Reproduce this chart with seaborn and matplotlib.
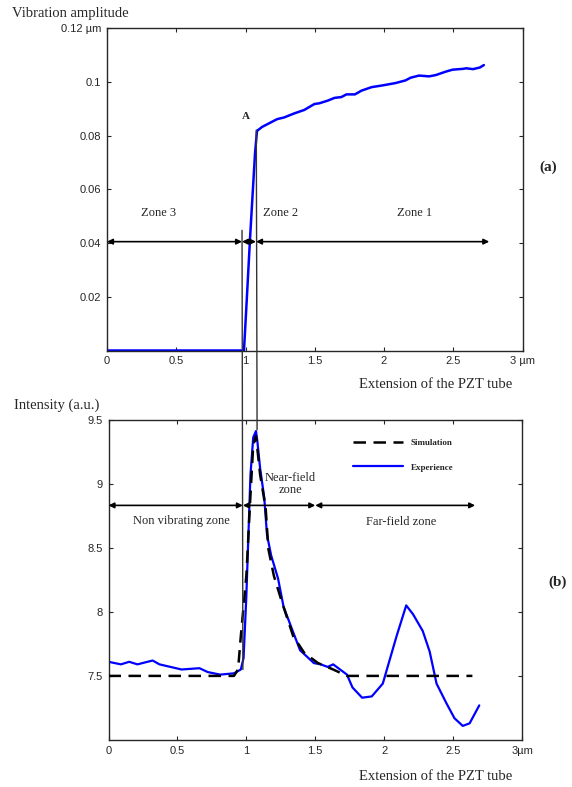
import matplotlib
matplotlib.use("Agg")
import matplotlib.pyplot as plt
from matplotlib.patches import ConnectionPatch
import seaborn as sns
import pandas as pd

# (a) vibration amplitude vs extension
ext_a = [0, 0.5, 0.989, 1.009, 1.032, 1.056, 1.069, 1.083, 1.12, 1.18, 1.229, 1.278,
         1.351, 1.424, 1.497, 1.534, 1.595, 1.643, 1.692, 1.729, 1.79, 1.838, 1.911,
         1.985, 2.082, 2.155, 2.192, 2.253, 2.326, 2.375, 2.448, 2.496, 2.57, 2.594,
         2.643, 2.692, 2.721]
amp_a = [0, 0, 0, 0.0188, 0.041, 0.0622, 0.0735, 0.0817, 0.0832, 0.0848, 0.0861, 0.0867,
         0.0882, 0.0895, 0.0917, 0.092, 0.093, 0.094, 0.0943, 0.0953, 0.0953, 0.0967, 0.098,
         0.0986, 0.0995, 0.1005, 0.1015, 0.1023, 0.102, 0.1025, 0.1038, 0.1045, 0.1048, 0.105,
         0.1047, 0.1053, 0.1062]

# (b) intensity: experience
ext_exp = [0, 0.09, 0.15, 0.21, 0.32, 0.37, 0.53, 0.66, 0.72, 0.81, 0.91, 0.96, 0.98, 1.0,
           1.03, 1.05, 1.07, 1.08, 1.10, 1.13, 1.15, 1.18, 1.23, 1.27, 1.34, 1.39, 1.49,
           1.54, 1.59, 1.63, 1.73, 1.77, 1.84, 1.91, 1.99, 2.09, 2.16, 2.21, 2.28, 2.33,
           2.38, 2.45, 2.51, 2.57, 2.62, 2.69]
int_exp = [7.61, 7.59, 7.61, 7.59, 7.62, 7.59, 7.55, 7.56, 7.53, 7.51, 7.52, 7.55, 7.64,
           8.12, 9.07, 9.36, 9.41, 9.33, 9.12, 8.89, 8.6, 8.44, 8.26, 8.04, 7.84, 7.70,
           7.60, 7.59, 7.57, 7.59, 7.51, 7.41, 7.33, 7.34, 7.44, 7.81, 8.05, 7.98, 7.85,
           7.69, 7.44, 7.29, 7.17, 7.11, 7.13, 7.27]

# (b) intensity: simulation
ext_sim = [0, 0.91, 0.94, 0.96, 1.0, 1.03, 1.05, 1.07, 1.10, 1.14, 1.16, 1.2, 1.26, 1.34,
           1.42, 1.52, 1.63, 1.73, 2.64]
int_sim = [7.5, 7.5, 7.55, 7.81, 8.28, 8.91, 9.3, 9.37, 9.07, 8.81, 8.49, 8.28, 8.07, 7.81,
           7.68, 7.6, 7.55, 7.5, 7.5]

x_ticks = [0, 0.5, 1, 1.5, 2, 2.5, 3]
x_labels_a = ["0", "0.5", "1", "1.5", "2", "2.5", "3 \u00b5m"]
x_labels_b = ["0", "0.5", "1", "1.5", "2", "2.5", "3\u00b5m"]
y_ticks_a = [0.02, 0.04, 0.06, 0.08, 0.1, 0.12]
y_labels_a = ["0.02", "0.04", "0.06", "0.08", "0.1", "0.12 \u00b5m"]
y_ticks_b = [7.5, 8, 8.5, 9, 9.5]
y_labels_b = ["7.5", "8", "8.5", "9", "9.5"]


def main():
    sns.set_style("ticks")
    plt.rcParams["font.family"] = ["Liberation Serif", "DejaVu Serif"]

    fig = plt.figure(figsize=(5.72, 7.87), dpi=100)
    W, H = 572, 787
    ax1 = fig.add_axes([107 / W, 1 - 350.5 / H, 415.5 / W, 322.5 / H])
    ax2 = fig.add_axes([108.5 / W, 1 - 740 / H, 413.5 / W, 320.5 / H])

    df_a = pd.DataFrame({"ext": ext_a, "amp": amp_a})
    sns.lineplot(data=df_a, x="ext", y="amp", ax=ax1, color="#0000ff", lw=1.8,
                 sort=False, estimator=None)

    df_exp = pd.DataFrame({"ext": ext_exp, "val": int_exp})
    df_sim = pd.DataFrame({"ext": ext_sim, "val": int_sim})
    sns.lineplot(data=df_sim, x="ext", y="val", ax=ax2, color="black", lw=1.8,
                 sort=False, estimator=None, label="Simulation")
    ax2.lines[-1].set_dashes((5, 3))
    ax2.lines[-1].set_zorder(3)
    sns.lineplot(data=df_exp, x="ext", y="val", ax=ax2, color="#0000ff", lw=1.6,
                 sort=False, estimator=None, label="Experience")
    ax2.lines[-1].set_zorder(2.5)

    for ax in (ax1, ax2):
        ax.set_xlim(0, 3)
        ax.set_xlabel("")
        ax.set_ylabel("")
        ax.tick_params(direction="in", top=True, right=True, length=3, width=0.8,
                       labelsize=8, pad=4)
        for s in ax.spines.values():
            s.set_linewidth(1.0)

    ax1.set_ylim(0, 0.12)
    ax1.set_xticks(x_ticks, x_labels_a, family="Liberation Sans")
    ax1.set_yticks(y_ticks_a, y_labels_a, family="Liberation Sans")
    ax2.set_ylim(7, 9.5)
    ax2.set_xticks(x_ticks, x_labels_b, family="Liberation Sans")
    ax2.set_yticks(y_ticks_b, y_labels_b, family="Liberation Sans")

    arrow = dict(arrowstyle="<|-|>", color="black", lw=1.2, mutation_scale=8,
                 shrinkA=0, shrinkB=0)
    # zones in (a)
    for x0, x1 in [(0, 0.975), (0.975, 1.076), (1.076, 2.76)]:
        ax1.annotate("", xy=(x0, 0.0405), xytext=(x1, 0.0405), arrowprops=arrow)
    ax1.text(0.37, 0.0512, "Zone 3", ha="center", va="center", fontsize=9)
    ax1.text(1.25, 0.0512, "Zone 2", ha="center", va="center", fontsize=9)
    ax1.text(2.22, 0.0512, "Zone 1", ha="center", va="center", fontsize=9)
    ax1.text(1.005, 0.087, "A", ha="center", va="center", fontsize=8, weight="bold")

    # zones in (b)
    for x0, x1 in [(0, 0.975), (0.975, 1.5), (1.5, 2.66)]:
        ax2.annotate("", xy=(x0, 8.83), xytext=(x1, 8.83), arrowprops=arrow)
    ax2.text(0.53, 8.71, "Non vibrating zone", ha="center", va="center", fontsize=9)
    ax2.text(1.32, 9.0, "Near-field\nzone", ha="center", va="center", fontsize=9,
             linespacing=1.0)
    ax2.text(2.12, 8.70, "Far-field zone", ha="center", va="center", fontsize=9)

    leg = ax2.legend(loc="upper left", bbox_to_anchor=(0.591, 0.94), frameon=False,
                     fontsize=6.5, handlelength=5.5, labelspacing=1.8, borderpad=0,
                     borderaxespad=0, handletextpad=0.9)
    for t in leg.get_texts():
        t.set_weight("bold")

    # connecting lines between the two panels
    for xa, ya, yb in [(0.975, 0.0447, 7.55), (1.078, 0.082, 9.42)]:
        con = ConnectionPatch(xyA=(xa, ya), coordsA=ax1.transData,
                              xyB=(xa, yb), coordsB=ax2.transData,
                              color="#333333", lw=1.0)
        fig.add_artist(con)

    fig.text(12 / W, 1 - 14 / H, "Vibration amplitude", ha="left", va="center",
             fontsize=10.5)
    fig.text(512 / W, 1 - 385 / H, "Extension of the PZT tube", ha="right",
             va="center", fontsize=10.5)
    fig.text(14 / W, 1 - 405 / H, "Intensity (a.u.)", ha="left", va="center",
             fontsize=10.5)
    fig.text(512 / W, 1 - 777 / H, "Extension of the PZT tube", ha="right",
             va="center", fontsize=10.5)
    fig.text(548 / W, 1 - 167 / H, "(a)", ha="center", va="center", fontsize=11,
             weight="bold")
    fig.text(558 / W, 1 - 582 / H, "(b)", ha="center", va="center", fontsize=11,
             weight="bold")

    fig.savefig("out.png", dpi=100)
    plt.close(fig)


if __name__ == "__main__":
    main()
